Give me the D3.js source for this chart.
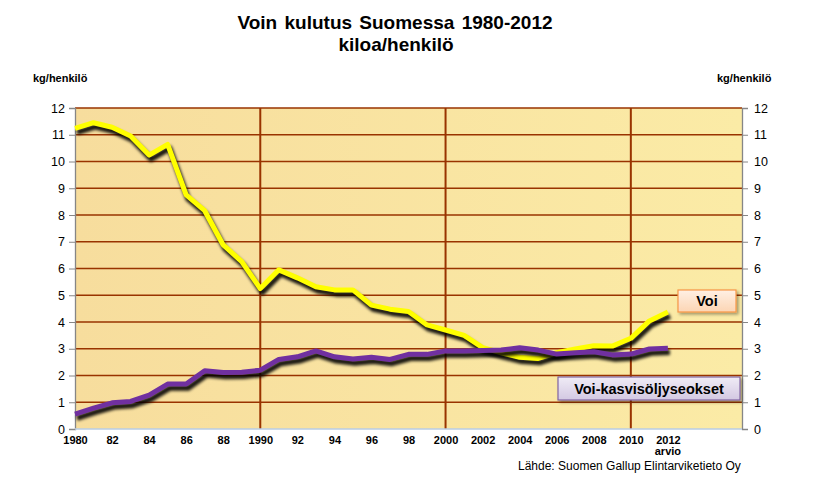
<!DOCTYPE html>
<html><head><meta charset="utf-8">
<script src="https://cdn.jsdelivr.net/npm/d3@7"></script>
<style>
body{margin:0;background:#fff;}
text{font-family:"Liberation Sans",Arial,sans-serif;}
</style></head><body>
<svg id="c" width="820" height="493"></svg>
<script>
const years = d3.range(1980, 2013);
const voi = [11.24,11.45,11.28,10.95,10.24,10.64,8.75,8.16,6.88,6.26,5.25,5.95,5.65,5.32,5.2,5.2,4.63,4.48,4.39,3.89,3.7,3.5,3.04,2.85,2.68,2.64,2.85,2.99,3.11,3.1,3.39,4.04,4.37];
const seos = [0.56,0.78,0.98,1.03,1.27,1.68,1.68,2.18,2.11,2.12,2.2,2.6,2.7,2.92,2.7,2.62,2.68,2.6,2.79,2.79,2.92,2.92,2.93,2.95,3.04,2.95,2.8,2.85,2.89,2.77,2.8,2.99,3.02];
const yTicks = d3.range(0, 13);
const xTickYears = d3.range(1980, 2013, 2);
const xTickLabel = y => (y % 10 === 0 || y >= 2000) ? String(y) : String(y).slice(2);
const seriesNames = ["Voi", "Voi-kasvisöljyseokset"];

const svg = d3.select("#c");
const L = 75, R = 742, T = 108, B = 429;
const x = d3.scaleLinear().domain([1980, 2016]).range([L, R]);
const y = d3.scaleLinear().domain([0, 12]).range([B, T]);

const defs = svg.append("defs");
const bg = defs.append("linearGradient").attr("id","bg").attr("x1","0").attr("x2","1").attr("y1","0").attr("y2","0");
bg.append("stop").attr("offset","0").attr("stop-color","#f7dd9d");
bg.append("stop").attr("offset","1").attr("stop-color","#fbeba6");
const g1 = defs.append("linearGradient").attr("id","lg1").attr("x1","0").attr("x2","0").attr("y1","0").attr("y2","1");
g1.append("stop").attr("offset","0").attr("stop-color","#fff0e4");
g1.append("stop").attr("offset","1").attr("stop-color","#fcd5b4");
const g2 = defs.append("linearGradient").attr("id","lg2").attr("x1","0").attr("x2","0").attr("y1","0").attr("y2","1");
g2.append("stop").attr("offset","0").attr("stop-color","#f0ecf6");
g2.append("stop").attr("offset","1").attr("stop-color","#d3c8e2");
const f = defs.append("filter").attr("id","sh").attr("x","-10%").attr("y","-10%").attr("width","120%").attr("height","130%");
f.append("feGaussianBlur").attr("stdDeviation","1.6");
const f2 = defs.append("filter").attr("id","bsh").attr("x","-10%").attr("y","-20%").attr("width","130%").attr("height","160%");
f2.append("feDropShadow").attr("dx","2").attr("dy","2").attr("stdDeviation","1.5").attr("flood-color","#000").attr("flood-opacity","0.35");

// title
svg.append("text").attr("x",395).attr("y",29).attr("text-anchor","middle").attr("font-size",19).attr("font-weight","bold").attr("word-spacing",2).text("Voin kulutus Suomessa 1980-2012");
svg.append("text").attr("x",396).attr("y",51).attr("text-anchor","middle").attr("font-size",19).attr("font-weight","bold").text("kiloa/henkilö");

// plot bg
svg.append("rect").attr("x",L).attr("y",T).attr("width",R-L).attr("height",B-T).attr("fill","url(#bg)");

// grid
svg.append("g").selectAll("line").data(yTicks.filter(d=>d>0)).join("line")
  .attr("x1",L).attr("x2",R).attr("y1",d=>y(d)).attr("y2",d=>y(d)).attr("stroke","#993300").attr("stroke-width",1.3);
svg.append("g").selectAll("line").data([1990,2000,2010]).join("line")
  .attr("x1",d=>x(d)).attr("x2",d=>x(d)).attr("y1",T).attr("y2",B).attr("stroke","#993300").attr("stroke-width",2);

// axes
const yl = svg.append("g").attr("transform",`translate(${L},0)`).call(d3.axisLeft(y).tickValues(yTicks).tickSize(6).tickPadding(4));
const yr = svg.append("g").attr("transform",`translate(${R},0)`).call(d3.axisRight(y).tickValues(yTicks).tickSize(6).tickPadding(6));
[yl,yr].forEach(a=>{a.select(".domain").attr("stroke","#868686").attr("stroke-width",1.3);a.selectAll(".tick line").attr("stroke","#868686");a.selectAll("text").attr("font-size",12.5).attr("fill","#000").attr("font-family","Liberation Sans, Arial");});
const xa = svg.append("g").attr("transform",`translate(0,${B})`).call(d3.axisBottom(x).tickValues(xTickYears).tickSize(0).tickPadding(7).tickFormat(xTickLabel));
xa.select(".domain").attr("stroke","#b9cde5").attr("stroke-width",1.3).attr("d",`M${L},0H${R}`);
xa.selectAll("text").attr("font-size",11).attr("font-weight","bold").attr("fill","#000").attr("font-family","Liberation Sans, Arial");
svg.append("text").attr("x",x(2012)).attr("y",455).attr("text-anchor","middle").attr("font-size",11).attr("font-weight","bold").text("arvio");

svg.append("text").attr("x",33).attr("y",82).attr("font-size",11).attr("font-weight","bold").text("kg/henkilö");
svg.append("text").attr("x",717).attr("y",82).attr("font-size",11).attr("font-weight","bold").text("kg/henkilö");
svg.append("text").attr("x",518).attr("y",470).attr("font-size",12).text("Lähde: Suomen Gallup Elintarviketieto Oy");

// lines
const line = d3.line().x((d,i)=>x(years[i])).y(d=>y(d));
const series = [{v:voi,c:"#ffff00"},{v:seos,c:"#7030a0"}];
series.forEach(s=>{
  svg.append("path").attr("d",line(s.v)).attr("fill","none").attr("stroke","#000").attr("stroke-opacity",0.9)
    .attr("stroke-width",5.5).attr("stroke-linejoin","round").attr("transform","translate(2,4)").attr("filter","url(#sh)");
  svg.append("path").attr("d",line(s.v)).attr("fill","none").attr("stroke",s.c).attr("stroke-width",5).attr("stroke-linejoin","round");
});

// legend labels
const lab = [{t:seriesNames[0],x:678,y:290,w:58,h:22,fill:"url(#lg1)",st:"#f79646"},
             {t:seriesNames[1],x:558,y:377,w:182,h:23,fill:"url(#lg2)",st:"#8064a2"}];
lab.forEach(d=>{
  svg.append("rect").attr("x",d.x).attr("y",d.y).attr("width",d.w).attr("height",d.h).attr("fill",d.fill).attr("stroke",d.st).attr("stroke-width",1.2).attr("filter","url(#bsh)");
  svg.append("text").attr("x",d.x+d.w/2).attr("y",d.y+d.h/2+5).attr("text-anchor","middle").attr("font-size",14.5).attr("font-weight","bold").text(d.t);
});
</script></body></html>
